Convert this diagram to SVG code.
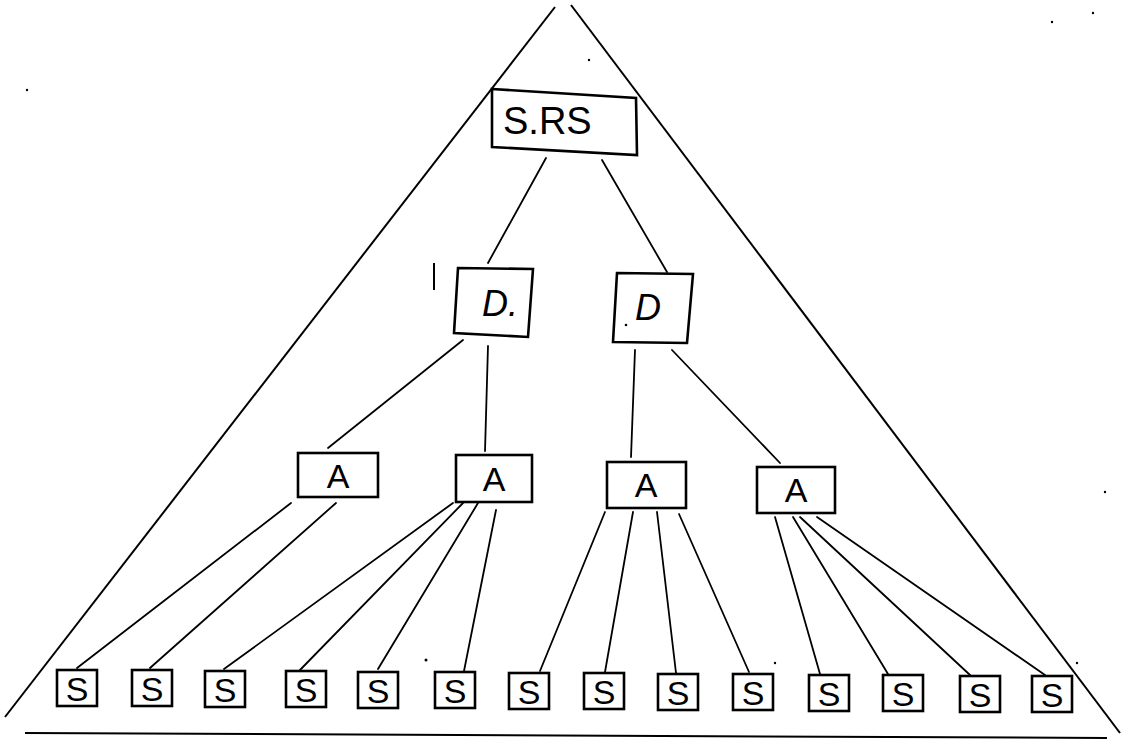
<svg xmlns="http://www.w3.org/2000/svg" width="1125" height="745" viewBox="0 0 1125 745">
<style>
.frame{fill:none;stroke:#000;stroke-width:2}
.box{fill:#fff;stroke:#000;stroke-width:2.6;stroke-linejoin:miter}
.conn line{stroke:#000;stroke-width:1.8;stroke-linecap:round}
.t{font-family:"Liberation Sans",Arial,sans-serif;fill:#000;text-anchor:middle}
.big{font-size:38px;text-anchor:start}
.mid{font-size:36px;font-style:italic}
.sm{font-size:34px}
.ss{font-size:34px}
.speck{fill:#000}
</style>
<rect width="1125" height="745" fill="#fff"/>
<g id="frame">
<line class="frame" x1="555" y1="7" x2="5" y2="717"/>
<line class="frame" x1="571" y1="5" x2="1120" y2="733"/>
<line class="frame" x1="25" y1="733" x2="1107" y2="738"/>
<line class="frame" x1="434" y1="263" x2="434" y2="290"/>
</g>
<g id="specks" class="speck">
<circle cx="589" cy="60" r="1.2"/>
<circle cx="1052" cy="22" r="1.2"/>
<circle cx="1093" cy="13" r="1.2"/>
<circle cx="1105" cy="492" r="1.2"/>
<circle cx="426" cy="660" r="1.5"/>
<circle cx="775" cy="663" r="1.2"/>
<circle cx="1077" cy="663" r="1.2"/>
<circle cx="27" cy="90" r="1.2"/>
</g>
<g id="connectors" class="conn">
<line x1="546" y1="158" x2="488" y2="263"/>
<line x1="602" y1="160" x2="667" y2="272"/>
<line x1="463" y1="340" x2="328" y2="448"/>
<line x1="488" y1="346" x2="485" y2="451"/>
<line x1="635" y1="350" x2="631" y2="457"/>
<line x1="672" y1="350" x2="780" y2="463"/>
<line x1="291" y1="503" x2="77" y2="668"/>
<line x1="336" y1="503" x2="150" y2="668"/>
<line x1="453" y1="503" x2="224" y2="669"/>
<line x1="463" y1="503" x2="300" y2="670"/>
<line x1="478" y1="503" x2="378" y2="669"/>
<line x1="496" y1="510" x2="464" y2="671"/>
<line x1="605" y1="512" x2="540" y2="671"/>
<line x1="633" y1="512" x2="605" y2="672"/>
<line x1="657" y1="512" x2="676" y2="673"/>
<line x1="679" y1="514" x2="749" y2="672"/>
<line x1="775" y1="517" x2="820" y2="674"/>
<line x1="793" y1="517" x2="888" y2="674"/>
<line x1="800" y1="517" x2="970" y2="675"/>
<line x1="817" y1="517" x2="1045" y2="675"/>
</g>
<g id="srs">
<polygon class="box" points="492,89 636,98 637,155 492,147"/>
<text class="t big" x="503" y="134">S.RS</text>
</g>
<g id="d1">
<polygon class="box" points="458,268 533,269 528,337 454,333"/>
<text class="t mid" x="500" y="316">D.</text>
</g>
<g id="d2">
<polygon class="box" points="617,273 693,274 687,343 613,342"/>
<text class="t mid" x="648" y="320">D</text>
<circle cx="626" cy="325" r="1.3" fill="#000"/>
</g>
<g id="a1"><rect class="box" x="298" y="453" width="80" height="44"/><text class="t sm" x="338" y="488">A</text></g>
<g id="a2"><rect class="box" x="456" y="455" width="76" height="47"/><text class="t sm" x="494" y="491">A</text></g>
<g id="a3"><rect class="box" x="607" y="462" width="79" height="46"/><text class="t sm" x="646" y="497">A</text></g>
<g id="a4"><rect class="box" x="757" y="467" width="78" height="46"/><text class="t sm" x="796" y="502">A</text></g>
<g id="s1"><rect class="box" x="57" y="670" width="40" height="36"/><text class="t ss" x="77" y="701">S</text></g>
<g id="s2"><rect class="box" x="132" y="670" width="40" height="36"/><text class="t ss" x="152" y="701">S</text></g>
<g id="s3"><rect class="box" x="205" y="671" width="40" height="36"/><text class="t ss" x="225" y="702">S</text></g>
<g id="s4"><rect class="box" x="286" y="671" width="40" height="36"/><text class="t ss" x="306" y="702">S</text></g>
<g id="s5"><rect class="box" x="358" y="672" width="40" height="36"/><text class="t ss" x="378" y="703">S</text></g>
<g id="s6"><rect class="box" x="435" y="672" width="40" height="36"/><text class="t ss" x="455" y="703">S</text></g>
<g id="s7"><rect class="box" x="509" y="673" width="40" height="36"/><text class="t ss" x="529" y="704">S</text></g>
<g id="s8"><rect class="box" x="584" y="673" width="40" height="36"/><text class="t ss" x="604" y="704">S</text></g>
<g id="s9"><rect class="box" x="658" y="674" width="40" height="36"/><text class="t ss" x="678" y="705">S</text></g>
<g id="s10"><rect class="box" x="733" y="674" width="40" height="36"/><text class="t ss" x="753" y="705">S</text></g>
<g id="s11"><rect class="box" x="809" y="675" width="40" height="36"/><text class="t ss" x="829" y="706">S</text></g>
<g id="s12"><rect class="box" x="883" y="675" width="40" height="36"/><text class="t ss" x="903" y="706">S</text></g>
<g id="s13"><rect class="box" x="960" y="676" width="40" height="36"/><text class="t ss" x="980" y="707">S</text></g>
<g id="s14"><rect class="box" x="1032" y="676" width="40" height="36"/><text class="t ss" x="1052" y="707">S</text></g>
</svg>
